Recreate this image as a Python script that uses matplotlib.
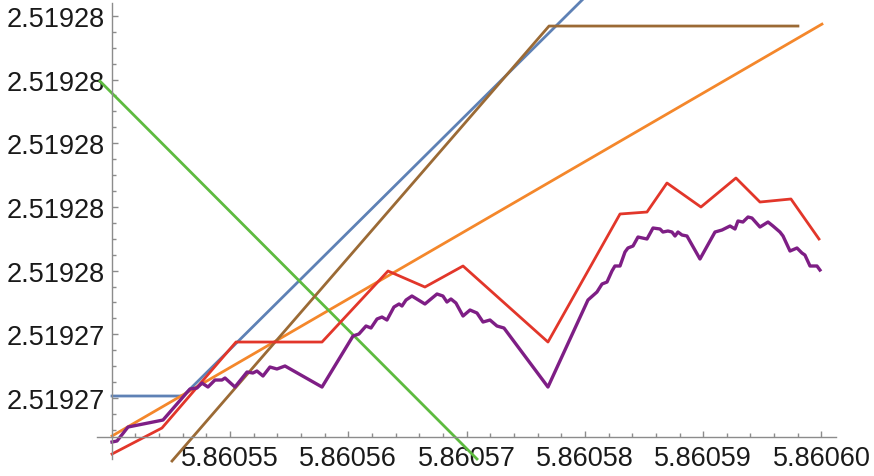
import numpy as np
import matplotlib
matplotlib.use("Agg")
import matplotlib.pyplot as plt
from matplotlib.ticker import FormatStrFormatter, FixedLocator

plt.rcParams['font.family'] = ['Liberation Sans', 'DejaVu Sans']

# --- data ---
blue_x = [5.86054003, 5.86054603, 5.86058200]
blue_y = [2.519272063, 2.519272063, 2.51928532]

orange_x = [5.86054003, 5.86060004]
orange_y = [2.519270807, 2.51928374]

green_x = [5.86053901, 5.86057088]
green_y = [2.51928195, 2.519270085]

brown_x = [5.86054510, 5.86057697, 5.86059801]
brown_y = [2.519270022, 2.51928368, 2.51928368]

red_x = [5.86054003, 5.86054425, 5.86055051, 5.86055778, 5.86056336, 5.86056648,
         5.86056970, 5.86057688, 5.86058297, 5.86058525, 5.86058694, 5.86058981,
         5.86059277, 5.86059480, 5.86059742, 5.86059979]
red_y = [2.519270242, 2.519271058, 2.519273758, 2.519273758, 2.519275988, 2.519275485,
         2.519276145, 2.519273758, 2.519277778, 2.519277840, 2.519278751, 2.519277997,
         2.519278908, 2.519278154, 2.519278249, 2.519276993]

purple_x = [5.86054003, 5.86054045, 5.86054138, 5.86054434, 5.86054662, 5.86054721,
            5.86054763, 5.86054814, 5.86054873, 5.86054932, 5.86054958, 5.86055042,
            5.86055144, 5.86055194, 5.86055228, 5.86055279, 5.86055338, 5.86055397,
            5.86055465, 5.86055778, 5.86056040, 5.86056090, 5.86056150, 5.86056192,
            5.86056243, 5.86056285, 5.86056327, 5.86056386, 5.86056429, 5.86056454,
            5.86056488, 5.86056538, 5.86056648, 5.86056750, 5.86056800, 5.86056834,
            5.86056868, 5.86056910, 5.86056970, 5.86057029, 5.86057088, 5.86057139,
            5.86057198, 5.86057257, 5.86057316, 5.86057688, 5.86058026, 5.86058102,
            5.86058145, 5.86058187, 5.86058229, 5.86058254, 5.86058297, 5.86058339,
            5.86058364, 5.86058407, 5.86058449, 5.86058525, 5.86058576, 5.86058635,
            5.86058660, 5.86058702, 5.86058736, 5.86058762, 5.86058787, 5.86058821,
            5.86058863, 5.86058973, 5.86059100, 5.86059159, 5.86059227, 5.86059269,
            5.86059294, 5.86059336, 5.86059379, 5.86059412, 5.86059480, 5.86059548,
            5.86059590, 5.86059649, 5.86059675, 5.86059734, 5.86059793, 5.86059835,
            5.86059860, 5.86059903, 5.86059962, 5.86059987]
purple_y = [2.519270618, 2.519270650, 2.519271089, 2.519271309, 2.519272283, 2.519272314,
            2.519272471, 2.519272345, 2.519272565, 2.519272565, 2.519272628, 2.519272345,
            2.519272816, 2.519272785, 2.519272848, 2.519272691, 2.519272973, 2.519272911,
            2.519273005, 2.519272345, 2.519273947, 2.519274010, 2.519274261, 2.519274198,
            2.519274481, 2.519274543, 2.519274449, 2.519274857, 2.519274952, 2.519274889,
            2.519275077, 2.519275203, 2.519274952, 2.519275266, 2.519275203, 2.519275014,
            2.519275109, 2.519274983, 2.519274575, 2.519274763, 2.519274669, 2.519274386,
            2.519274449, 2.519274261, 2.519274198, 2.519272345, 2.519275077, 2.519275328,
            2.519275580, 2.519275642, 2.519275988, 2.519276145, 2.519276145, 2.519276584,
            2.519276710, 2.519276773, 2.519277055, 2.519276993, 2.519277338, 2.519277307,
            2.519277212, 2.519277244, 2.519277212, 2.519277087, 2.519277212, 2.519277118,
            2.519277087, 2.519276365, 2.519277212, 2.519277275, 2.519277401, 2.519277307,
            2.519277558, 2.519277526, 2.519277683, 2.519277652, 2.519277369, 2.519277526,
            2.519277401, 2.519277212, 2.519277087, 2.519276616, 2.519276710, 2.519276553,
            2.519276490, 2.519276145, 2.519276145, 2.519276019]

x_major = [5.86055, 5.86056, 5.86057, 5.86058, 5.86059, 5.86060]
y_major = [2.519272, 2.519274, 2.519276, 2.519278, 2.519280, 2.519282, 2.519284]

# axes origin and plot range
x_origin, y_origin = 5.86054, 2.519270775

fig = plt.figure(figsize=(8.74, 4.77), dpi=100)
ax = fig.add_axes([0, 0, 1, 1])
ax.set_xlim(5.86053056, 5.86060444)
ax.set_ylim(2.519269551, 2.519284529)

lw = 2.0
ax.plot(blue_x, blue_y, color='#5E81B5', lw=lw)
ax.plot(orange_x, orange_y, color='#F4872B', lw=lw)
ax.plot(green_x, green_y, color='#5DBB3F', lw=lw)
ax.plot(brown_x, brown_y, color='#9B6A35', lw=lw)
ax.plot(red_x, red_y, color='#E2362A', lw=lw)
ax.plot(purple_x, purple_y, color='#7E1E85', lw=2.4)

axis_col = '#8c8c8c'
for s in ['top', 'right']:
    ax.spines[s].set_visible(False)
ax.spines['left'].set_position(('data', x_origin))
ax.spines['bottom'].set_position(('data', y_origin))
ax.spines['left'].set_bounds(2.519270085, 2.5192844)
ax.spines['bottom'].set_bounds(5.86053876, 5.8606012)
for s in ['left', 'bottom']:
    ax.spines[s].set_color(axis_col)
    ax.spines[s].set_linewidth(1.0)

ax.xaxis.set_major_locator(FixedLocator(x_major))
ax.yaxis.set_major_locator(FixedLocator(y_major))
x_minor = [5.86054 + k * 2e-6 for k in range(1, 31) if k % 5 != 0]
y_minor = [2.519271 + k * 5e-7 for k in range(0, 26) if (k - 2) % 4 != 0]
ax.xaxis.set_minor_locator(FixedLocator(x_minor))
ax.yaxis.set_minor_locator(FixedLocator(y_minor))
ax.xaxis.set_major_formatter(FormatStrFormatter('%.5f'))
ax.yaxis.set_major_formatter(FormatStrFormatter('%.5f'))

ax.tick_params(which='both', direction='in', color=axis_col, width=1.0,
               labelsize=19.5, labelcolor='#1a1a1a')
ax.tick_params(which='major', length=4.5)
ax.tick_params(which='minor', length=2.6)
ax.tick_params(axis='y', pad=5)
ax.tick_params(axis='x', pad=6)

fig.savefig('out.png', dpi=100)
